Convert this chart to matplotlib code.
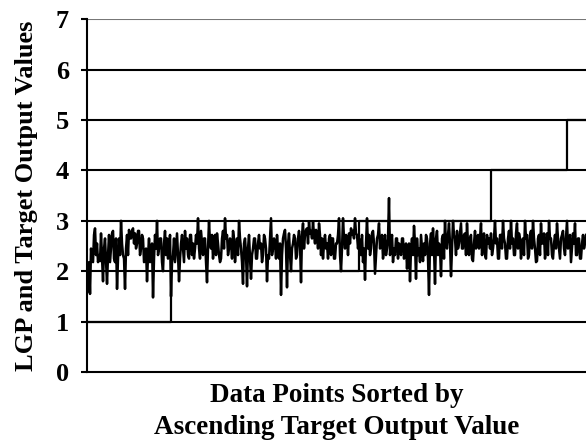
import numpy as np
import matplotlib
matplotlib.use("Agg")
import matplotlib.pyplot as plt

# LGP output for each data point (sorted by target value)
lgp_output = [
    # target = 1
    2.05, 1.60, 2.18, 1.55, 2.45, 2.20, 2.18, 2.72, 2.85, 2.32, 2.55, 2.18, 2.32, 2.20, 2.75, 2.25, 1.80, 2.45, 2.65, 2.18,
    1.75, 2.32, 2.72, 2.18, 2.45, 2.75, 2.80, 2.25, 2.18, 2.65, 1.65, 2.25, 2.65, 2.32, 3.00, 2.55, 2.32, 2.25, 1.65, 2.45,
    2.72, 2.32, 2.82, 2.65, 2.65, 2.80, 2.85, 2.55, 2.75, 2.45, 2.55, 2.80, 2.80, 2.32, 2.45, 2.72, 2.65, 2.18, 2.20, 2.45,
    1.80, 2.32, 2.65, 2.18, 2.32, 2.55, 1.48, 2.25, 2.72, 2.45, 3.00, 2.32, 2.45, 2.65, 2.65, 2.18, 2.00, 2.55, 2.80, 2.32,
    2.65, 2.25, 2.45, 2.72,
    # target = 2
    1.50, 2.18, 2.32, 2.65, 2.18, 2.45, 2.75, 2.32, 1.80, 2.25, 2.55, 2.72, 2.45, 2.18, 2.80, 2.45, 2.65, 2.32, 2.25, 2.72,
    2.72, 2.32, 2.55, 2.25, 2.45, 2.72, 2.55, 3.05, 2.45, 2.25, 2.80, 2.55, 2.32, 2.65, 2.65, 2.18, 1.78, 2.45, 3.00, 2.55,
    2.45, 2.72, 2.25, 2.55, 2.72, 2.32, 2.75, 2.55, 2.32, 2.18, 2.25, 2.65, 2.80, 2.45, 3.05, 2.65, 2.72, 2.32, 2.45, 2.65,
    2.55, 2.25, 2.80, 2.65, 2.18, 2.45, 2.65, 2.32, 3.00, 2.65, 2.45, 2.18, 1.75, 2.55, 2.65, 2.32, 1.70, 2.45, 2.72, 2.25,
    1.85, 2.32, 2.45, 2.65, 2.65, 2.25, 2.25, 2.55, 2.72, 2.45, 2.55, 2.18, 2.32, 2.72, 2.65, 2.45, 1.80, 2.32, 2.25, 2.65,
    3.05, 2.32, 2.45, 2.65, 2.55, 2.25, 2.72, 2.45, 2.25, 2.55, 1.53, 2.32, 2.65, 2.75, 2.82, 2.45, 1.68, 2.55, 2.75, 2.32,
    2.00, 2.45, 2.55, 2.72, 2.65, 2.25, 2.32, 2.65, 2.80, 2.55, 1.78, 2.72, 2.95, 2.45, 2.72, 2.82, 2.85, 2.55, 2.98, 2.75,
    2.80, 2.65, 2.98, 2.72, 2.55, 2.82, 2.75, 2.45, 2.95, 2.72, 2.32, 2.65, 2.25, 2.55, 2.72, 2.45, 2.55, 2.25, 2.65, 2.72,
    2.32, 2.65, 2.65, 2.25, 2.25, 2.55, 2.55, 2.72, 3.05, 2.32, 2.00, 2.45, 3.05, 2.65, 2.45, 2.72, 2.65, 2.32, 2.75, 2.55,
    2.85, 2.72, 2.80, 2.65, 3.05, 2.75, 2.72, 2.45,
    # target = 3
    2.65, 2.45, 2.32, 2.72, 2.18, 2.45, 1.83, 2.55, 3.05, 2.45, 2.72, 2.32, 2.45, 2.75, 2.80, 2.55, 1.95, 2.32, 2.65, 2.72,
    2.95, 2.45, 2.55, 2.72, 2.25, 2.45, 2.72, 2.32, 2.45, 2.65, 3.45, 2.32, 2.55, 2.72, 2.18, 2.45, 2.32, 2.65, 2.65, 2.25,
    2.55, 2.45, 2.32, 2.65, 2.65, 2.25, 2.45, 2.55, 2.05, 2.45, 2.55, 1.80, 2.45, 2.65, 2.32, 2.90, 2.55, 1.85, 2.65, 2.32,
    2.45, 2.18, 2.72, 2.45, 2.20, 2.55, 2.32, 2.72, 2.65, 2.25, 1.53, 2.55, 2.75, 2.32, 2.85, 2.45, 1.75, 2.65, 2.80, 2.32,
    2.55, 2.45, 1.90, 2.65, 2.72, 2.25, 3.00, 2.55, 2.45, 2.72, 2.95, 2.55, 1.90, 2.45, 3.00, 2.72, 2.65, 2.32, 2.80, 2.45,
    2.55, 2.75, 2.95, 2.45, 2.45, 2.72, 2.75, 2.32, 2.95, 2.55, 2.32, 2.65, 2.72, 2.25, 2.20, 2.55, 2.80, 2.45, 2.65, 2.72,
    2.45, 2.65, 2.95, 2.32, 2.55, 2.75, 2.32, 2.25, 2.72, 2.55, 2.65, 2.45,
    # target = 4
    2.75, 2.32, 2.45, 2.65, 3.00, 2.55, 2.65, 2.25, 2.25, 2.72, 2.72, 2.45, 3.00, 2.65, 2.55, 2.25, 2.25, 2.65, 2.80, 2.45,
    3.00, 2.55, 2.65, 2.32, 2.32, 2.75, 2.95, 2.45, 2.75, 2.65, 2.25, 2.55, 2.65, 2.32, 3.00, 2.65, 2.72, 2.25, 2.32, 2.72,
    2.80, 2.45, 3.00, 2.65, 2.45, 2.18, 2.20, 2.65, 2.72, 2.32, 2.95, 2.55, 2.55, 2.75, 2.25, 2.45, 2.75, 2.32, 3.00, 2.65,
    2.65, 2.32, 2.25, 2.55, 2.72, 2.45, 2.95, 2.65, 2.45, 2.25, 2.65, 2.72, 2.80, 2.45, 2.32, 2.65,
    # target = 5
    3.00, 2.45, 2.55, 2.72, 2.18, 2.45, 2.75, 2.55, 2.95, 2.32, 2.32, 2.65, 2.65, 2.25, 2.25, 2.55, 2.72, 2.45, 2.55, 2.72,
]

# target output classes and how many points fall in each
target_levels = [1, 2, 3, 4, 5]
target_counts = [84, 188, 132, 76, 20]

y_ticks = [0, 1, 2, 3, 4, 5, 6, 7]

target = np.repeat(target_levels, target_counts)
x = np.arange(len(lgp_output))

plt.rcParams['font.family'] = ['Liberation Serif', 'DejaVu Serif']
plt.rcParams['font.weight'] = 'bold'

fig = plt.figure(figsize=(5.86, 4.44), dpi=100)
ax = fig.add_axes([0.1485, 0.162, 0.8515, 0.795])

# horizontal grid
for v in y_ticks[1:]:
    ax.axhline(v, color='black' if v < 7 else '#777777', lw=1.5, zorder=1)

ax.plot(x, lgp_output, color='black', lw=1.8, zorder=3)
ax.plot(x, target, color='black', lw=1.6, drawstyle='steps-post', zorder=2)

ax.set_xlim(0, len(lgp_output) - 1)
ax.set_ylim(0, 7)
ax.set_yticks(y_ticks)
ax.set_xticks([])
ax.tick_params(axis='y', direction='out', length=4, width=1.5, pad=9, labelsize=19)
for lbl in ax.get_yticklabels():
    lbl.set_fontweight('bold')

for side in ['top', 'right']:
    ax.spines[side].set_visible(False)
ax.spines['left'].set_linewidth(1.5)
ax.spines['bottom'].set_linewidth(1.5)

ax.set_ylabel('LGP and Target Output Values', fontsize=19, fontweight='bold', labelpad=13)
ax.set_xlabel('Data Points Sorted by\nAscending Target Output Value',
              fontsize=19.5, fontweight='bold', labelpad=8, linespacing=1.35)

fig.savefig('out.png', dpi=100)
